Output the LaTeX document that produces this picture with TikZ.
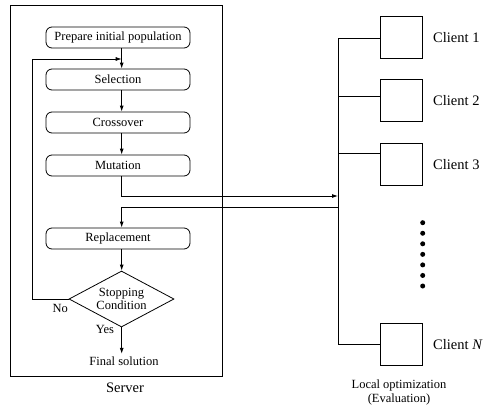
\documentclass[tikz,border=0pt]{standalone}
\usepackage{fontspec}
\setmainfont{Liberation Serif}
\usetikzlibrary{shapes.geometric,arrows.meta}
\newcommand{\fsbox}{\fontsize{12.5}{14.5}\selectfont}
\newcommand{\fsbig}{\fontsize{14.5}{17}\selectfont}
\tikzset{
  ln/.style={line width=0.8pt},
  arr/.style={ln,-{Latex[length=6pt,width=4pt]}},
  procbox/.style={draw,ln,rounded corners=6pt,minimum width=144pt,minimum height=21pt,inner sep=0pt,font=\fsbox},
  decbox/.style={draw,ln,diamond,aspect=1.875,minimum width=105pt,minimum height=56pt,inner sep=0pt,align=center,font=\fsbox},
  clientbox/.style={draw,ln,minimum width=42.5pt,minimum height=42.5pt,inner sep=0pt},
  serverbox/.style={draw,ln,minimum width=212pt,minimum height=371pt,inner sep=0pt},
  lbl/.style={font=\fsbox,inner sep=0pt},
  biglbl/.style={font=\fsbig,inner sep=0pt},
  dotmark/.style={fill,circle,inner sep=0pt,minimum size=5pt}
}
\begin{document}
\begin{tikzpicture}[x=1pt,y=-1pt]
\useasboundingbox (0,0) rectangle (486,407);
% server
\node[serverbox] (server) at (116,190.5) {};
\node[biglbl,anchor=base] (serverlbl) at (125,392.7) {Server};
% flow boxes
\node[procbox] (prep) at (118,37.5) {Prepare initial population};
\node[procbox] (sel) at (118,79.5) {Selection};
\node[procbox] (cross) at (118,122.5) {Crossover};
\node[procbox] (mut) at (118,165.5) {Mutation};
\node[procbox] (rep) at (118,238.5) {Replacement};
\node[decbox] (dia) at (121.5,299) {Stopping\\[-1pt]Condition};
\node[lbl,anchor=base,inner sep=3pt] (final) at (124,365.7) {Final solution};
\node[lbl,anchor=base] (yes) at (105,333.3) {Yes};
\node[lbl,anchor=base] (no) at (60.2,312.3) {No};
% helper coordinates
\coordinate (ax) at (121.7,0);
\coordinate (lx) at (32,0);
\coordinate (lp) at (121.7,59);
\coordinate (bus) at (338,0);
\coordinate (m1) at (121.7,196);
\coordinate (r1) at (338,207);
% flow connectors
\draw[arr] (prep.south -| ax) -- (sel.north -| ax);
\draw[arr] (sel.south -| ax) -- (cross.north -| ax);
\draw[arr] (cross.south -| ax) -- (mut.north -| ax);
\draw[arr] (mut.south -| ax) |- (m1 -| bus);
\draw[arr] (r1) -| (rep.north -| ax);
\draw[arr] (rep.south -| ax) -- (dia.north -| ax);
\draw[arr] (dia.south -| ax) -- (final.north -| ax);
\draw[arr] (dia.west) -| (lx |- lp) -- (lp);
% clients
\node[clientbox] (c1) at (401.35,37.15) {};
\node[clientbox] (c2) at (401.35,100.5) {};
\node[clientbox] (c3) at (401.35,164.15) {};
\node[clientbox] (cn) at (401.35,344.5) {};
\node[biglbl,anchor=base west] (l1) at (433,42.3) {Client 1};
\node[biglbl,anchor=base west] (l2) at (433,105.7) {Client 2};
\node[biglbl,anchor=base west] (l3) at (433,169.3) {Client 3};
\node[biglbl,anchor=base west] (ln) at (433,349.6) {Client \textit{N}};
% bus
\coordinate (b1) at (338,38);
\coordinate (b2) at (338,96);
\coordinate (b3) at (338,153);
\coordinate (bn) at (338,344.5);
\draw[ln] (b1) -- (bn);
\draw[ln] (b1) -- (b1 -| c1.west);
\draw[ln] (b2) -- (b2 -| c2.west);
\draw[ln] (b3) -- (b3 -| c3.west);
\draw[ln] (bn) -- (cn.west);
% dots
\foreach \i in {0,...,6} {
  \node[dotmark] (dot\i) at (422.7,222.7+10.55*\i) {};
}
% local optimization
\node[lbl,anchor=base,align=center] (loc) at (399,388) {Local optimization};
\node[lbl,anchor=base] (eval) at (399,402) {(Evaluation)};
\end{tikzpicture}
\end{document}
